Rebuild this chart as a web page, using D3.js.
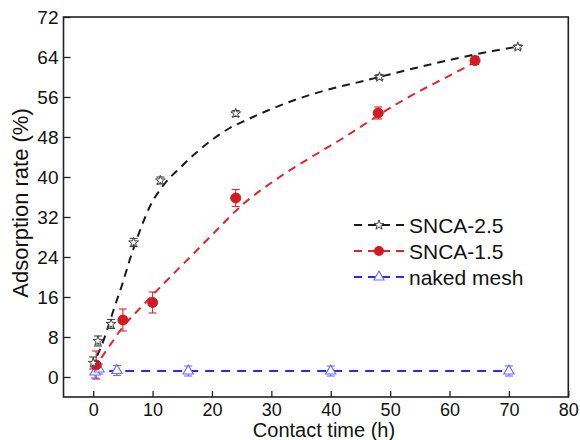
<!DOCTYPE html>
<html>
<head>
<meta charset="utf-8">
<script src="https://cdn.jsdelivr.net/npm/d3@7/dist/d3.min.js"></script>
<style>
  html, body { margin: 0; padding: 0; background: #fff; }
  svg { display: block; }
  text { font-family: "Liberation Sans", Arial, sans-serif; fill: #111; }
</style>
</head>
<body>
<svg id="chart" width="580" height="440"></svg>
<script>
// Measured adsorption rates (%) vs contact time (h)
const timeSNCA25 = [0, 0.8, 3, 6.8, 11.3, 24, 48.2, 71.5];
const rateSNCA25 = [2.8, 7.2, 10.6, 26.9, 39.3, 52.7, 60.0, 66.0];
const errSNCA25  = [1.2, 1.0, 0.9, 0.8, 0.7, 0.6, 0.5, 0.4];

const timeSNCA15 = [0.5, 5, 10, 24, 48, 64.3];
const rateSNCA15 = [2.4, 11.4, 14.9, 35.8, 52.8, 63.3];
const errSNCA15  = [2.8, 2.2, 2.1, 1.7, 1.2, 0.8];

const timeMesh = [0.3, 1, 4, 16, 40, 70];
const rateMesh = [1.0, 1.6, 1.3, 1.2, 1.2, 1.2];
const errMesh  = [1.2, 1.0, 1.0, 1.0, 1.0, 1.0];

// Kinetic fit curves
const fitTime25 = [0, 0.6, 1.4, 2.5, 3.65, 4.8, 6.2, 8.1, 9.5, 12, 14.6, 17.1, 23, 25.8, 33, 39.3, 45.5, 57.8, 67.3, 71.7];
const fitRate25 = [1.5, 4, 6.2, 10, 14.2, 18.2, 23.6, 30.0, 34.0, 38.6, 41.8, 44.6, 49.8, 51.4, 55, 57.4, 59.2, 62.8, 65.2, 66.1];

const fitTime15 = [0, 1.4, 2.8, 4.8, 8.4, 11.8, 16, 20, 24.7, 31.4, 37.6, 42.1, 46, 51.1, 56.1, 61.2, 64.3];
const fitRate15 = [1.5, 3.9, 6.3, 9.7, 14.4, 18.6, 23.6, 28.4, 34.0, 40.0, 44.6, 47.8, 50.8, 54.6, 57.9, 61.0, 63.0];

const fitTimeMesh = [0, 70];
const fitRateMesh = [1.2, 1.2];

// Axis ticks
const xTicks = [0, 10, 20, 30, 40, 50, 60, 70, 80];
const yTicks = [0, 8, 16, 24, 32, 40, 48, 56, 64, 72];

const seriesNames = ["SNCA-2.5", "SNCA-1.5", "naked mesh"];

const svg = d3.select("#chart");
const x = d3.scaleLinear().domain([-5, 80]).range([63.5, 568.3]);
const y = d3.scaleLinear().domain([-4, 72]).range([397, 17]);

const colors = {
  black: "#1a1a1a",
  red: "#e0262c",
  redFill: "#d41a20",
  blue: "#2a2aff",
  blueMark: "#6a6aff"
};

const zip = (xs, ys) => xs.map((v, i) => [v, ys[i]]);
const line = d3.line().x(d => x(d[0])).y(d => y(d[1])).curve(d3.curveMonotoneX);

// Fit curves (dashed)
const fits = [
  { pts: zip(fitTime25, fitRate25), color: colors.black, dash: "8,6" },
  { pts: zip(fitTime15, fitRate15), color: colors.red, dash: "8,6" },
  { pts: zip(fitTimeMesh, fitRateMesh), color: colors.blue, dash: "9,7" }
];
fits.forEach(f => {
  svg.append("path")
    .attr("d", line(f.pts))
    .attr("fill", "none")
    .attr("stroke", f.color)
    .attr("stroke-width", 2)
    .attr("stroke-dasharray", f.dash);
});

// Error bars
function errorBars(ts, vs, es, color) {
  const g = svg.append("g").attr("stroke", color).attr("stroke-width", 1.1).attr("fill", "none");
  ts.forEach((t, i) => {
    const cx = x(t), y0 = y(vs[i] - es[i]), y1 = y(vs[i] + es[i]);
    g.append("line").attr("x1", cx).attr("x2", cx).attr("y1", y0).attr("y2", y1);
    g.append("line").attr("x1", cx - 4).attr("x2", cx + 4).attr("y1", y0).attr("y2", y0);
    g.append("line").attr("x1", cx - 4).attr("x2", cx + 4).attr("y1", y1).attr("y2", y1);
  });
}
errorBars(timeMesh, rateMesh, errMesh, colors.blueMark);
errorBars(timeSNCA15, rateSNCA15, errSNCA15, colors.red);
errorBars(timeSNCA25, rateSNCA25, errSNCA25, "#444");

// Markers
const starPath = d3.symbol().type(d3.symbolStar).size(30)();
const triPath = d3.symbol().type(d3.symbolTriangle).size(45)();

function markers(ts, vs, kind) {
  const g = svg.append("g");
  ts.forEach((t, i) => {
    const tx = x(t), ty = y(vs[i]);
    if (kind === "star") {
      g.append("path").attr("d", starPath).attr("transform", `translate(${tx},${ty})`)
        .attr("fill", "#fff").attr("stroke", "#333").attr("stroke-width", 0.9);
    } else if (kind === "circle") {
      g.append("circle").attr("cx", tx).attr("cy", ty).attr("r", 5)
        .attr("fill", colors.redFill).attr("stroke", colors.redFill);
    } else {
      g.append("path").attr("d", triPath).attr("transform", `translate(${tx},${ty})`)
        .attr("fill", "#fff").attr("stroke", colors.blueMark).attr("stroke-width", 1.1);
    }
  });
}
markers(timeMesh, rateMesh, "tri");
markers(timeSNCA15, rateSNCA15, "circle");
markers(timeSNCA25, rateSNCA25, "star");

// Frame
svg.append("rect")
  .attr("x", x(-5)).attr("y", y(72))
  .attr("width", x(80) - x(-5)).attr("height", y(-4) - y(72))
  .attr("fill", "none").attr("stroke", "#222").attr("stroke-width", 1.6);

// Axes with inward ticks
const xAxis = d3.axisBottom(x).tickValues(xTicks).tickSizeInner(-6).tickSizeOuter(0).tickPadding(6);
const gx = svg.append("g").attr("transform", `translate(0,${y(-4)})`).call(xAxis);
gx.select(".domain").remove();
gx.selectAll(".tick line").attr("stroke", "#222").attr("stroke-width", 1.3);
gx.selectAll(".tick text").attr("font-size", 18).attr("fill", "#111")
  .attr("font-family", "Liberation Sans, Arial, sans-serif");

const yAxis = d3.axisLeft(y).tickValues(yTicks).tickSizeInner(-7).tickSizeOuter(0).tickPadding(5);
const gy = svg.append("g").attr("transform", `translate(${x(-5)},0)`).call(yAxis);
gy.select(".domain").remove();
gy.selectAll(".tick line").attr("stroke", "#222").attr("stroke-width", 1.3);
gy.selectAll(".tick text").attr("font-size", 19).attr("fill", "#111")
  .attr("font-family", "Liberation Sans, Arial, sans-serif");

// Axis titles
svg.append("text")
  .attr("x", 324).attr("y", 436.5)
  .attr("text-anchor", "middle").attr("font-size", 20)
  .text("Contact time (h)");

svg.append("text")
  .attr("transform", "translate(28,203) rotate(-90)")
  .attr("text-anchor", "middle").attr("font-size", 22)
  .text("Adsorption rate (%)");

// Legend
const legend = svg.append("g");
const legendRows = [
  { name: seriesNames[0], color: colors.black, kind: "star" },
  { name: seriesNames[1], color: colors.red, kind: "circle" },
  { name: seriesNames[2], color: colors.blue, kind: "tri" }
];
legendRows.forEach((r, i) => {
  const cy = 225 + i * 26;
  legend.append("line")
    .attr("x1", 354).attr("x2", 404).attr("y1", cy).attr("y2", cy)
    .attr("stroke", r.color).attr("stroke-width", 2).attr("stroke-dasharray", "8,6");
  if (r.kind === "star") {
    legend.append("path").attr("d", starPath).attr("transform", `translate(379,${cy})`)
      .attr("fill", "#fff").attr("stroke", "#333").attr("stroke-width", 0.9);
  } else if (r.kind === "circle") {
    legend.append("circle").attr("cx", 379).attr("cy", cy).attr("r", 5).attr("fill", colors.redFill);
  } else {
    legend.append("path").attr("d", triPath).attr("transform", `translate(379,${cy})`)
      .attr("fill", "#fff").attr("stroke", colors.blueMark).attr("stroke-width", 1.1);
  }
  legend.append("text").attr("x", 409).attr("y", cy + 8).attr("font-size", 21).text(r.name);
});
</script>
</body>
</html>
